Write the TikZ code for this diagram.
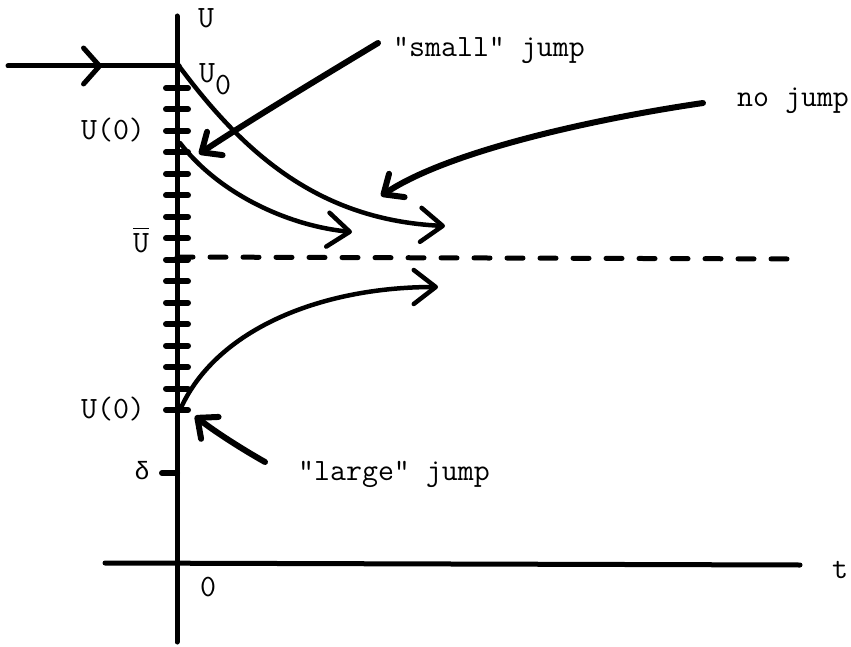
\documentclass[tikz,border=0pt]{standalone}
\usepackage{fontspec}
\newfontfamily\grkfont{Liberation Mono}
\usetikzlibrary{arrows.meta, decorations.markings}
\tikzset{
  ph-axis/.style={line width=5pt, line cap=round},
  ph-tick/.style={line width=6pt, line cap=round},
  ph-dash/.style={line width=5pt, line cap=round, dash pattern=on 16pt off 17pt},
  ph-orbit/.style={line width=4.5pt, line cap=round,
    -{Straight Barb[length=22pt, width=34pt, round]}},
  ph-note/.style={line width=6pt, line cap=round,
    -{Straight Barb[length=16pt, width=28pt, round]}},
  ph-mid/.style={postaction={decorate, decoration={markings,
    mark=at position 0.55 with {\arrow{Straight Barb[length=16pt, width=36pt, round]}}}}},
  ph-lbl/.style={font=\ttfamily\fontsize{31}{36}\selectfont, inner sep=0pt},
}
\begin{document}
\begin{tikzpicture}[x=1pt, y=-1pt]
  \useasboundingbox (0,0) rectangle (851,647);
  % axes
  \coordinate (yTop)   at (177,16);
  \coordinate (yBot)   at (177,642);
  \coordinate (xLeft)  at (105,563);
  \coordinate (xRight) at (800,565);
  \draw[ph-axis] (yTop) -- (yBot);
  \draw[ph-axis] (xLeft) -- (xRight);

  % ticks on the U axis
  \foreach \i [evaluate=\i as \ty using 88+21.47*\i] in {0,...,15}
    \draw[ph-tick] (166,\ty) -- (188,\ty);
  \draw[ph-tick] (162,473) -- (177,473);

  % incoming state and the equilibrium
  \coordinate (inStart) at (8,66);
  \coordinate (u0)      at (179,66);
  \draw[ph-axis, ph-mid] (inStart) -- (u0);
  \coordinate (ubarPt)  at (177,257);
  \coordinate (dashEnd) at (798,259);
  \draw[ph-dash] (ubarPt) -- (dashEnd);

  % trajectories
  \coordinate (uMid)   at (180,143);
  \coordinate (uLow)   at (180,410);
  \coordinate (endNo)    at (445,226);
  \coordinate (endSmall) at (352,232);
  \coordinate (endLarge) at (438,287);
  \draw[ph-orbit] (u0) .. controls (245,155) and (320,220) .. (endNo);
  \draw[ph-orbit] (uMid) .. controls (220,195) and (290,226) .. (endSmall);
  \draw[ph-orbit] (uLow) .. controls (215,330) and (320,287) .. (endLarge);

  % labels
  \node[ph-lbl] (lblU) at (206,18) {U};
  \node[ph-lbl, anchor=base west] (lblUzero) at (199,83) {U\raisebox{-12pt}{0}};
  \node[ph-lbl] (lblUa) at (113,130) {U(0)};
  \node[ph-lbl] (lblUbar) at (141,240) {\vbox{\hrule height 1.5pt\kern4pt\hbox{U}}};
  \node[ph-lbl] (lblUb) at (113,409) {U(0)};
  \node[ph-lbl] (lblDelta) at (142,471) {{\grkfont\fontsize{25}{30}\selectfont δ}};
  \node[ph-lbl] (lblZero) at (208,587) {0};
  \node[ph-lbl] (lblT) at (840,570) {t};
  \node[ph-lbl, anchor=base west] (lblSmall) at (393,57) {\textquotedbl small\textquotedbl{} jump};
  \node[ph-lbl, anchor=base west] (lblNo) at (737,107) {no jump};
  \node[ph-lbl, anchor=base west] (lblLarge) at (298,480) {\textquotedbl large\textquotedbl{} jump};

  % pointers to the jumps
  \coordinate (smallTail) at (378,43);
  \coordinate (smallTip)  at (199,154);
  \coordinate (noTail)    at (703,103);
  \coordinate (noTip)     at (381,196);
  \coordinate (largeTail) at (265,462);
  \coordinate (largeTip)  at (195,416);
  \draw[ph-note] (smallTail) .. controls (330,72) and (250,120) .. (smallTip);
  \draw[ph-note] (noTail) .. controls (600,118) and (450,150) .. (noTip);
  \draw[ph-note] (largeTail) .. controls (235,445) and (210,428) .. (largeTip);
\end{tikzpicture}
\end{document}
